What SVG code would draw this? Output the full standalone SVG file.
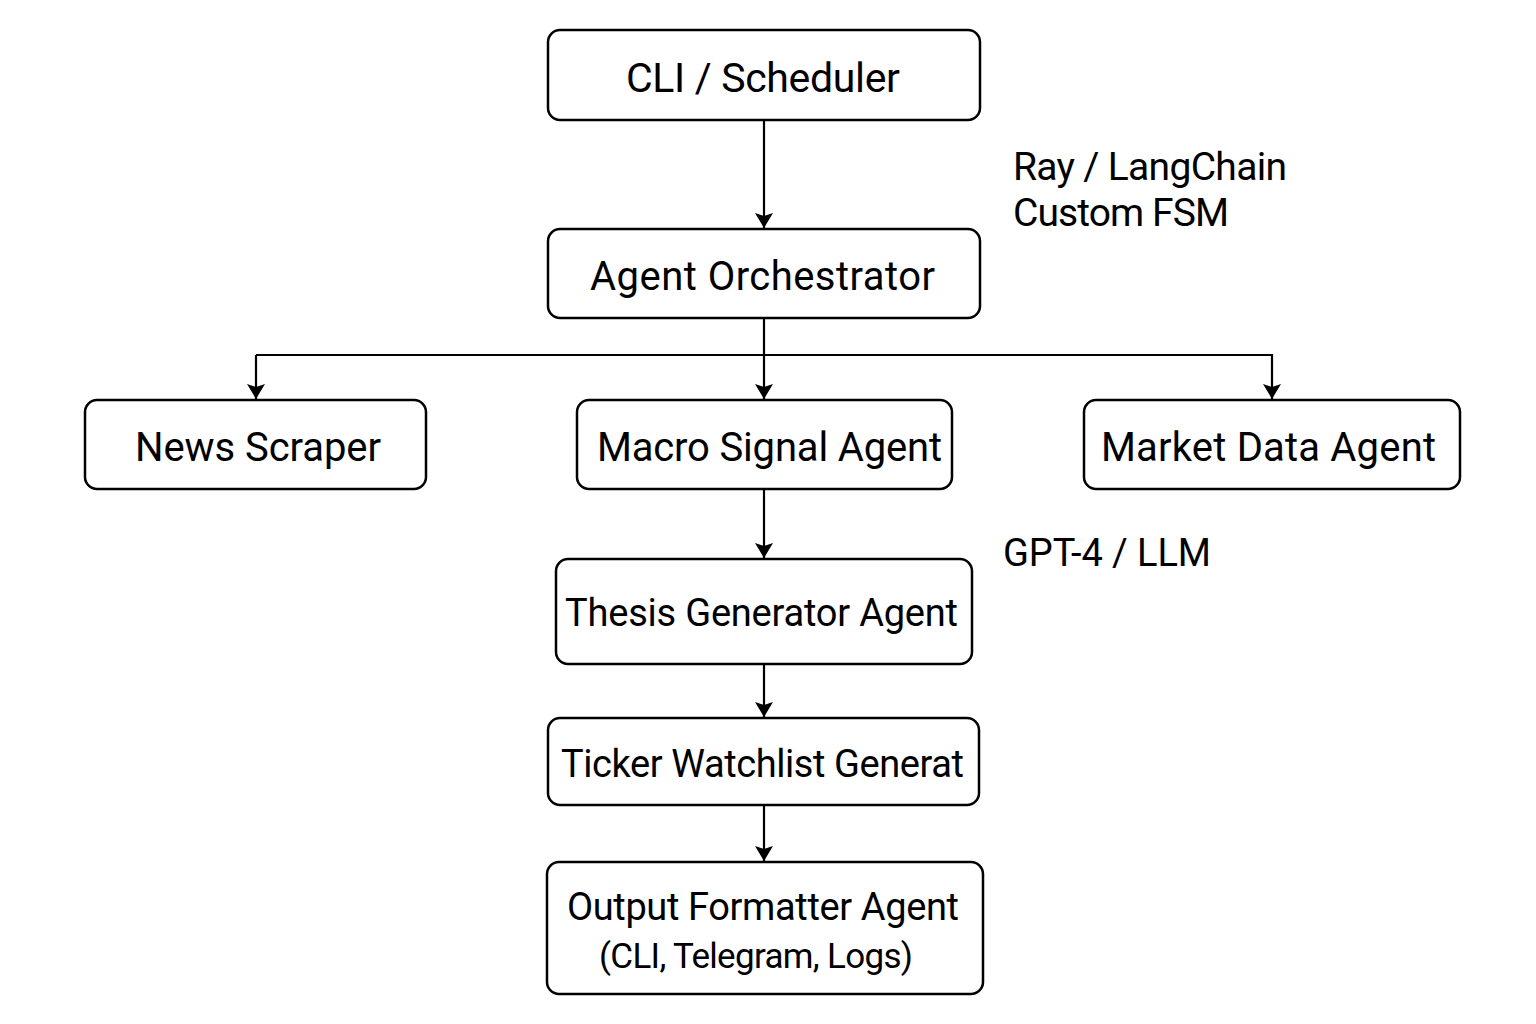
<svg xmlns="http://www.w3.org/2000/svg" width="1536" height="1024" viewBox="0 0 1536 1024">
<defs>
<marker id="ah" viewBox="0 0 15 18" refX="15" refY="9" markerWidth="15" markerHeight="18" markerUnits="userSpaceOnUse" orient="auto">
<path d="M0,0 L15,9 L0,18 L3,9 Z" fill="#000"/>
</marker>
</defs>
<style>
.box{fill:#fff;stroke:#000;stroke-width:2.5}
.t{font-family:Roboto,"Liberation Sans",Arial,sans-serif;fill:#000}
.c{fill:none;stroke:#000;stroke-width:2.2}
</style>
<rect width="1536" height="1024" fill="#fff"/>
<g id="connectors">
<path class="c" d="M764,121 V228" marker-end="url(#ah)"/>
<path class="c" d="M764,318 V399" marker-end="url(#ah)"/>
<path class="c" d="M256,355 H1272 V399" marker-end="url(#ah)"/>
<path class="c" d="M256,355 V399" marker-end="url(#ah)"/>
<path class="c" d="M764,489 V558" marker-end="url(#ah)"/>
<path class="c" d="M764,664 V717" marker-end="url(#ah)"/>
<path class="c" d="M764,806 V861" marker-end="url(#ah)"/>
</g>
<g id="cli">
<rect class="box" x="548" y="30" width="432" height="90" rx="12"/>
<text class="t" x="626" y="92" textLength="274" font-size="41">CLI / Scheduler</text>
</g>
<g id="orchestrator">
<rect class="box" x="548" y="229" width="432" height="89" rx="12"/>
<text class="t" x="590" y="290" textLength="345" font-size="40">Agent Orchestrator</text>
</g>
<g id="label-ray">
<text class="t" x="1013" y="180" textLength="274" font-size="39">Ray / LangChain</text>
<text class="t" x="1013" y="226" textLength="216" font-size="39">Custom FSM</text>
</g>
<g id="news">
<rect class="box" x="85" y="400" width="341" height="89" rx="12"/>
<text class="t" x="135" y="461" textLength="246" font-size="40">News Scraper</text>
</g>
<g id="macro">
<rect class="box" x="577" y="400" width="375" height="89" rx="12"/>
<text class="t" x="597" y="461" textLength="345" font-size="40">Macro Signal Agent</text>
</g>
<g id="market">
<rect class="box" x="1084" y="400" width="376" height="89" rx="12"/>
<text class="t" x="1101" y="461" textLength="335" font-size="40">Market Data Agent</text>
</g>
<g id="label-gpt">
<text class="t" x="1003" y="566" textLength="208" font-size="38">GPT-4 / LLM</text>
</g>
<g id="thesis">
<rect class="box" x="556" y="559" width="416" height="105" rx="12"/>
<text class="t" x="565" y="626" textLength="393" font-size="38">Thesis Generator Agent</text>
</g>
<g id="ticker">
<rect class="box" x="548" y="718" width="431" height="87" rx="12"/>
<text class="t" x="561" y="777" textLength="403" font-size="38">Ticker Watchlist Generat</text>
</g>
<g id="output">
<rect class="box" x="547" y="862" width="436" height="132" rx="12"/>
<text class="t" x="567" y="920" textLength="392" font-size="38">Output Formatter Agent</text>
<text class="t" x="599" y="968" textLength="314" font-size="35">(CLI, Telegram, Logs)</text>
</g>
</svg>
